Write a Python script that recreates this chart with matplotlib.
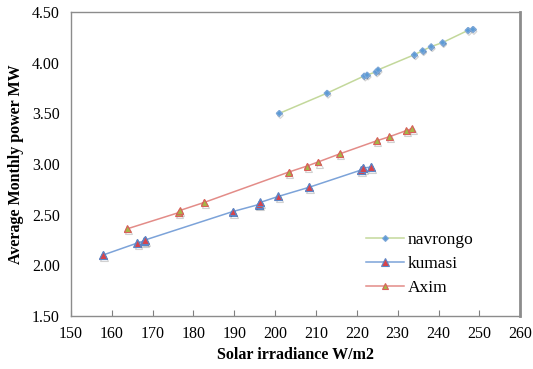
import matplotlib
matplotlib.use('Agg')
import matplotlib.pyplot as plt
import matplotlib.patheffects as pe

# Data
navrongo_x = [201.0, 212.7, 221.8, 222.5, 224.7, 225.2, 234.1, 236.1, 238.2, 241.0, 247.2, 248.4]
navrongo_y = [3.50, 3.70, 3.87, 3.88, 3.91, 3.93, 4.08, 4.12, 4.16, 4.20, 4.32, 4.33]

kumasi_x = [157.8, 166.3, 167.9, 168.2, 189.6, 196.0, 196.3, 200.8, 208.3, 221.0, 221.5, 223.5]
kumasi_y = [2.10, 2.22, 2.24, 2.25, 2.53, 2.60, 2.62, 2.68, 2.77, 2.94, 2.96, 2.97]

axim_x = [163.8, 176.4, 176.6, 182.6, 203.3, 207.8, 210.5, 215.8, 224.9, 228.0, 232.1, 233.5]
axim_y = [2.36, 2.52, 2.54, 2.62, 2.92, 2.98, 3.02, 3.10, 3.23, 3.27, 3.33, 3.35]

x_ticks = list(range(150, 261, 10))
y_ticks = [1.5, 2.0, 2.5, 3.0, 3.5, 4.0, 4.5]

plt.rcParams['font.family'] = ['Liberation Serif', 'DejaVu Serif']

fig = plt.figure(figsize=(5.33, 3.69), dpi=100)
ax = fig.add_axes([0.133, 0.144, 0.843, 0.823])

shadow = [pe.SimpleLineShadow(offset=(0.8, -1.5), alpha=0.18, shadow_color='black'), pe.Normal()]

series = [
    (navrongo_x, navrongo_y, 'navrongo', '#C3D89B', 'D', 3, '#5B9BD5', '#7FA8D8'),
    (kumasi_x, kumasi_y, 'kumasi', '#7CA3D9', '^', 5.5, '#D9434A', '#5E86C6'),
    (axim_x, axim_y, 'Axim', '#E38C88', '^', 5, '#A4B845', '#D9605C'),
]
for xs, ys, name, lc, mk, ms, mfc, mec in series:
    # line, then markers with a soft drop shadow as in the original
    ax.plot(xs, ys, color=lc, lw=1.1, marker=mk, ms=ms, mfc=mfc, mec=mec,
            mew=0.8, label=name)
    ax.plot(xs, ys, ls='none', marker=mk, ms=ms, mfc=mfc, mec=mec, mew=0.8,
            path_effects=shadow)

ax.set_xlim(150, 260)
ax.set_ylim(1.5, 4.5)
ax.set_xticks(x_ticks)
ax.set_yticks(y_ticks)
ax.set_yticklabels([f'{v:.2f}' for v in y_ticks])
ax.tick_params(axis='x', direction='in', length=4, color='#808080', labelsize=11.5, pad=7)
ax.tick_params(axis='y', length=0, labelsize=11.5, pad=8)

for side in ['top', 'left', 'bottom']:
    ax.spines[side].set_color('#8C8C8C')
    ax.spines[side].set_linewidth(1.0)
ax.spines['right'].set_color('#8C8C8C')
ax.spines['right'].set_linewidth(2.0)

ax.set_xlabel('Solar irradiance W/m2', fontsize=11.5, fontweight='bold', labelpad=4)
ax.set_ylabel('Average Monthly power MW', fontsize=11.5, fontweight='bold', labelpad=6)

ax.legend(loc='lower right', bbox_to_anchor=(0.93, 0.015), frameon=False, fontsize=12.5,
          handlelength=2.2, handletextpad=0.2, labelspacing=0.45)

fig.savefig('out.png', dpi=100)
